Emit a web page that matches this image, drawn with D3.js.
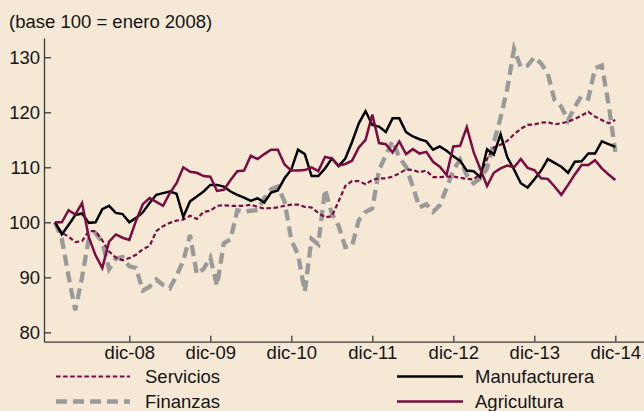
<!DOCTYPE html>
<html lang="es">
<head>
  <meta charset="UTF-8" />
  <title>Índices sectoriales (base 100 = enero 2008)</title>
  <script src="https://d3js.org/d3.v7.min.js"></script>
  <style>
    body { margin: 0; overflow: hidden; background: #f5e9d6; }
    svg { background: #f5e9d6; font-family: "Liberation Sans", Arial, sans-serif; }
    .axis path, .axis line { stroke: #3a3a3a; stroke-width: 1.3px; }
    .axis text { font-size: 18.5px; fill: #141414; font-family: "Liberation Sans", Arial, sans-serif; }
    .serie { fill: none; }
    .legend text { font-size: 18.5px; fill: #141414; }
  </style>
</head>
<body>
  <svg width="644" height="411"></svg>
  <script>
    const width = 644, height = 411;

    // Meses: 0 = enero 2008 ... 83 = diciembre 2014
    const tickMonths = [11, 23, 35, 47, 59, 71, 83];
    const tickLabels = ["dic-08", "dic-09", "dic-10", "dic-11", "dic-12", "dic-13", "dic-14"];
    const yTicks = [80, 90, 100, 110, 120, 130];

    const servicios = [
      100, 98.1, 97.4, 96.4, 96.6, 98.4, 98.4, 96.7, 94.7, 93.6, 93.1, 93.5,
      94.1, 95.1, 95.7, 98.4, 99.3, 99.9, 100.3, 100.5, 101.2, 100.6, 101.9, 102.1,
      103, 103.1, 103, 103, 103, 103.2, 102.8, 102.5, 102.6, 102.7, 103, 103.2,
      103.2, 102.8, 102.7, 101.7, 100.9, 101.1, 103.8, 106.6, 107.5, 107.5, 106.9, 107.7,
      108, 108, 108.3, 108.9, 109.6, 109.5, 109.1, 109.4, 108.2, 108.2, 108.3, 108.3,
      108.1, 107.9, 107.8, 108.8, 111.5, 113.6, 114.1, 114.8, 116, 117, 117.7, 117.8,
      118.1, 118.2, 117.8, 118, 118.3, 118.8, 119.4, 120.1, 119.2, 118.6, 118, 118.6
    ];
    const finanzas = [
      100, 97, 90.2, 84, 90, 97, 98, 96.4, 91.5, 93.4, 93.7, 92,
      91.7, 87.6, 88.3, 89.6, 88.6, 88, 90.3, 93, 97.7, 90.6, 91.5, 93.6,
      88.5, 96.2, 96.9, 102.2, 101.9, 102.1, 102.2, 104.4, 106, 106.5, 103.8, 96.8,
      94.1, 87.4, 97, 96, 106, 101.6, 99.4, 95.5, 95.7, 100.4, 101.9, 102.5,
      109.5, 112.2, 114.8, 111.8, 110.1, 106.5, 102.7, 103.3, 101.9, 103.1, 106.2, 109.5,
      111.4, 108.6, 107.1, 108, 109.8, 114.5, 119, 124.3, 131.5, 128.2, 128.5, 130,
      128.9, 127, 122.2, 121, 118.5, 121, 123, 122.5, 128, 128.5, 121.5, 112.8
    ];
    const manufacturera = [
      100, 97.8, 99.5, 101.3, 101.6, 99.9, 100, 102.4, 103, 101.7, 101.5, 100,
      100.8, 101.8, 103.5, 105, 105.3, 105.6, 105.2, 101, 103.8, 104.7, 105.6, 106.8,
      106.8, 106.5, 105.6, 105, 104.5, 103.9, 104.4, 103.6, 105.4, 105.8, 108, 109.6,
      113.2, 112.4, 108.4, 108.4, 109.8, 111.6, 110.2, 111.6, 114.6, 118, 120.2, 117.7,
      117.4, 116.4, 118.9, 118.9, 116.4, 115.6, 115.1, 114.7, 113.2, 113.8, 113, 112,
      111.2, 109.4, 109.3, 108.2, 113.3, 112.3, 116, 111.8, 109.6, 107.1, 106.3, 107.8,
      109.4, 111.5, 110.8, 110.1, 109, 111, 111.1, 112.5, 112.5, 114.7, 114.2, 113.7
    ];
    const agricultura = [
      100, 100, 102.2, 101.4, 103.5, 97.3, 94, 91.7, 96.5, 97.8, 97.2, 96.8,
      100.3, 103.3, 104.4, 103.7, 103, 105.3, 107.1, 110, 109.2, 109, 108.4, 108.3,
      105.7, 105.9, 107.7, 109.3, 109.4, 112.1, 111.5, 112.4, 113.2, 113.2, 110.5, 109.4,
      109.4, 109.5, 110, 109.3, 111.9, 111.6, 110.3, 110.6, 111.2, 113.6, 115, 119.6,
      114.4, 114.2, 112.7, 114.7, 112.4, 113.3, 112.5, 112.8, 111, 110.1, 108.6, 113.8,
      113.9, 117.3, 112.8, 109.7, 106.6, 109, 109.8, 110.3, 110, 111.5, 109.9, 109.5,
      108, 107.9, 106.5, 105, 106.8, 108.7, 110.4, 110.4, 111.3, 109.8, 108.7, 107.7
    ];

    const series = [
      { name: "Servicios", values: servicios, color: "#7b0c42", width: 2.2, dash: "4.5,2.6" },
      { name: "Finanzas", values: finanzas, color: "#9a9a9a", width: 4.3, dash: "11,6" },
      { name: "Manufacturera", values: manufacturera, color: "#000000", width: 2.5, dash: null },
      { name: "Agricultura", values: agricultura, color: "#7b0c42", width: 2.5, dash: null }
    ];

    const svg = d3.select("svg");

    const x = d3.scaleLinear().domain([-1.637, 87.25]).range([44, 644]);
    const y = d3.scaleLinear().domain([78.3, 133.5]).range([341.7, 38]);

    // título
    svg.append("text")
      .attr("x", 9).attr("y", 28)
      .attr("font-size", 18.5).attr("fill", "#141414")
      .text("(base 100 = enero 2008)");

    // ejes
    svg.append("g")
      .attr("class", "axis")
      .attr("transform", "translate(44,0)")
      .call(d3.axisLeft(y).tickValues(yTicks).tickSizeInner(-7).tickSizeOuter(0).tickPadding(4));

    svg.append("g")
      .attr("class", "axis")
      .attr("transform", "translate(0,341.7)")
      .call(d3.axisBottom(x).tickValues(tickMonths).tickSizeInner(-6).tickSizeOuter(0).tickPadding(4.5)
        .tickFormat((d, i) => tickLabels[i]));

    // líneas (gris detrás)
    const line = d3.line().x((d, i) => x(i)).y(d => y(d));
    const drawOrder = [series[1], series[0], series[2], series[3]];
    svg.append("g").selectAll("path")
      .data(drawOrder)
      .enter().append("path")
        .attr("class", "serie")
        .attr("d", d => line(d.values))
        .attr("stroke", d => d.color)
        .attr("stroke-width", d => d.width)
        .attr("stroke-dasharray", d => d.dash)
        .attr("stroke-linejoin", "miter");

    // leyenda
    const legendPos = [
      { x1: 56, x2: 130, tx: 145, y: 376.5 },
      { x1: 56, x2: 130, tx: 145, y: 401.5 },
      { x1: 397, x2: 463, tx: 475, y: 376.5 },
      { x1: 397, x2: 463, tx: 475, y: 401.5 }
    ];
    const legend = svg.append("g").attr("class", "legend");
    series.forEach((s, i) => {
      const p = legendPos[i];
      legend.append("line")
        .attr("x1", p.x1).attr("x2", p.x2).attr("y1", p.y).attr("y2", p.y)
        .attr("stroke", s.color).attr("stroke-width", s.width)
        .attr("stroke-dasharray", s.dash);
      legend.append("text")
        .attr("x", p.tx).attr("y", p.y).attr("dy", "0.35em")
        .text(s.name);
    });
  </script>
</body>
</html>
